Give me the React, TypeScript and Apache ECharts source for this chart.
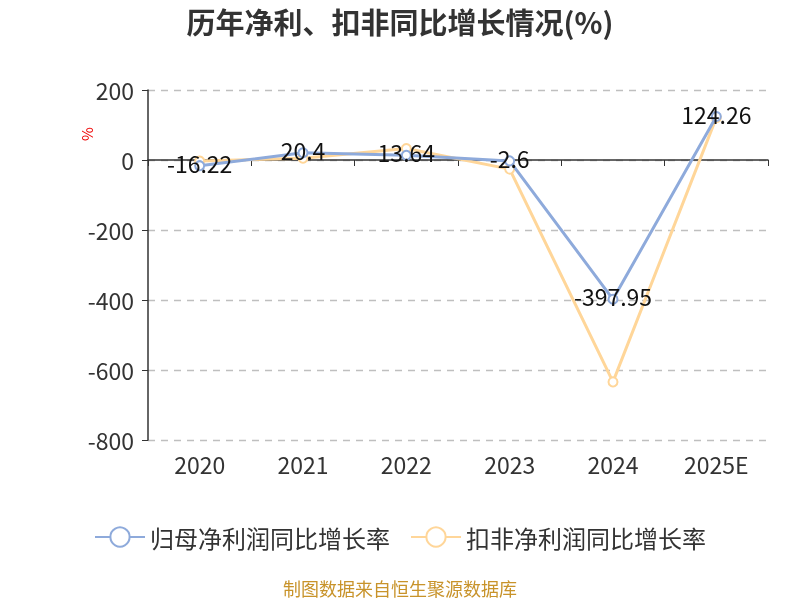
import React, { useEffect, useRef } from "react";
import * as echarts from "echarts";

const categories = ["2020", "2021", "2022", "2023", "2024", "2025E"];
const netProfitGrowth = [-16.22, 20.4, 13.64, -2.6, -397.95, 124.26];
const deductedGrowth = [-3, 5, 33, -26, -634, 121];
const seriesNames = ["归母净利润同比增长率", "扣非净利润同比增长率"];
const FONT = "'Noto Sans CJK SC', 'Noto Sans', sans-serif";

export default function App() {
  const ref = useRef<HTMLDivElement>(null);
  useEffect(() => {
    const chart = echarts.init(ref.current!, undefined, { renderer: "svg" });
    chart.setOption({
      animation: false,
      textStyle: { fontFamily: FONT },
      title: {
        text: "历年净利、扣非同比增长情况(%)",
        left: "center",
        top: 1,
        textStyle: { fontSize: 29, fontWeight: "bold", color: "#333", fontFamily: FONT },
      },
      grid: { left: 148, right: 32, top: 90, bottom: 160, containLabel: false, outerBoundsMode: "none" },
      legend: {
        bottom: 46,
        left: "center",
        itemWidth: 50,
        itemHeight: 24,
        itemGap: 20,
        textStyle: { fontSize: 24, color: "#333", fontFamily: FONT },
        data: seriesNames,
      },
      graphic: [
        {
          type: "text",
          x: 86,
          y: 134,
          rotation: Math.PI / 2,
          style: { text: "%", fill: "#e00", fontSize: 15, fontFamily: FONT, align: "center", verticalAlign: "middle" },
        },
        {
          type: "text",
          left: "center",
          top: 579,
          style: { text: "制图数据来自恒生聚源数据库", fill: "#c8932a", fontSize: 18, fontFamily: FONT },
        },
      ],
      xAxis: {
        type: "category",
        data: categories,
        axisLine: { onZero: true, lineStyle: { color: "#333", width: 1.5 } },
        axisTick: { show: true, length: 6, lineStyle: { color: "#333" } },
        axisLabel: { fontSize: 23, color: "#333", margin: 12, fontFamily: FONT },
      },
      yAxis: {
        type: "value",
        min: -800,
        max: 200,
        interval: 200,
        axisLine: { show: true, lineStyle: { color: "#333", width: 1.5 } },
        axisTick: { show: true, length: 6, lineStyle: { color: "#333" } },
        axisLabel: { fontSize: 23, color: "#333", margin: 14, fontFamily: FONT },
        splitLine: { lineStyle: { type: [7, 6], color: "#bfbfbf", width: 1.3 } },
      },
      series: [
        {
          name: seriesNames[0],
          type: "line",
          data: netProfitGrowth,
          symbol: "emptyCircle",
          symbolSize: 9,
          itemStyle: { color: "#8eaadb" },
          lineStyle: { width: 3, color: "#8eaadb" },
          label: {
            show: true,
            position: "inside",
            offset: [0, -3],
            fontSize: 23,
            color: "#111",
            fontFamily: FONT,
          },
          z: 3,
        },
        {
          name: seriesNames[1],
          type: "line",
          data: deductedGrowth,
          symbol: "emptyCircle",
          symbolSize: 9,
          itemStyle: { color: "#ffd699" },
          lineStyle: { width: 3, color: "#ffd699" },
          label: { show: false },
          z: 2,
        },
      ],
    });
    return () => chart.dispose();
  }, []);
  return (
    <div
      ref={ref}
      style={{ position: "fixed", left: 0, top: 0, width: 800, height: 600 }}
    />
  );
}
